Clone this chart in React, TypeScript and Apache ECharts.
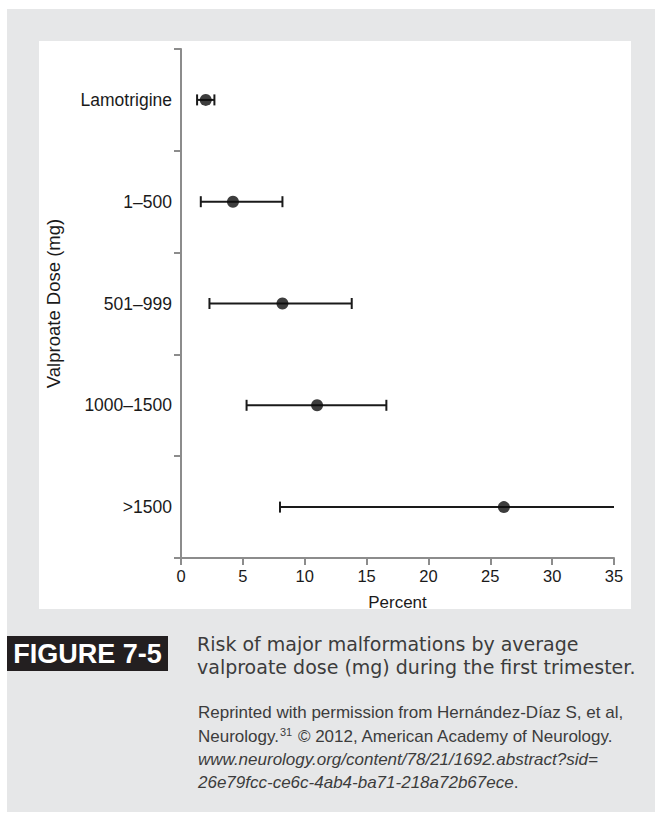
import React, { useEffect, useRef } from "react";
import * as echarts from "echarts";

const categories = ["Lamotrigine", "1–500", "501–999", "1000–1500", ">1500"];
const pointValues = [2.0, 4.2, 8.2, 11.0, 26.1];
const lowerValues = [1.3, 1.6, 2.3, 5.3, 8.0];
const upperValues = [2.7, 8.2, 13.8, 16.6, 35];
const upperOpen = [false, false, false, false, true];
const xTicks = [0, 5, 10, 15, 20, 25, 30, 35];

const FONT = "Liberation Sans";
const CAPTION_FONT = "DejaVu Sans";
const AXIS_COLOR = "#8c8c8c";
const TEXT_COLOR = "#1a1a1a";
const CAPTION_COLOR = "#3c3c3c";

export default function App() {
  const ref = useRef<HTMLDivElement>(null);
  useEffect(() => {
    if (!ref.current) return;
    const chart = echarts.init(ref.current, undefined, { renderer: "svg" });
    const errData = categories.map((c, i) => [lowerValues[i], upperValues[i], i, upperOpen[i] ? 1 : 0]);
    const ptData = categories.map((c, i) => [pointValues[i], i]);
    chart.setOption({
      animation: false,
      backgroundColor: "#ffffff",
      graphic: [
        { type: "rect", z: -10, shape: { x: 7, y: 9, width: 648, height: 803 }, style: { fill: "#e6e7e8" }, silent: true },
        { type: "rect", z: -9, shape: { x: 39, y: 41, width: 592, height: 568 }, style: { fill: "#ffffff" }, silent: true },
        { type: "rect", shape: { x: 7, y: 636, width: 161, height: 35 }, style: { fill: "#231f20" } },
        {
          type: "text", x: 87.5, y: 654,
          style: { text: "FIGURE 7-5", fill: "#ffffff", font: `bold 27px "${FONT}"`, align: "center", verticalAlign: "middle" },
        },
        {
          type: "text", x: 197, y: 655,
          style: {
            text: "Risk of major malformations by average\nvalproate dose (mg) during the first trimester.",
            fill: CAPTION_COLOR, font: `19px "${CAPTION_FONT}"`, lineHeight: 23, verticalAlign: "middle",
          },
        },
        {
          type: "text", x: 198, y: 712,
          style: { text: "Reprinted with permission from Hernández-Díaz S, et al,", fill: CAPTION_COLOR, font: `17px "${FONT}"`, lineHeight: 20, verticalAlign: "middle" },
        },
        {
          type: "text", x: 198, y: 736,
          style: {
            text: "{n|Neurology.}{s|31}{n| © 2012, American Academy of Neurology.}",
            fill: CAPTION_COLOR, verticalAlign: "middle",
            rich: {
              n: { font: `17px "${FONT}"`, fill: CAPTION_COLOR, verticalAlign: "middle", lineHeight: 20 },
              s: { font: `11px "${FONT}"`, fill: CAPTION_COLOR, verticalAlign: "top", padding: [0, 1, 9, 1] },
            },
          },
        },
        {
          type: "text", x: 198, y: 759,
          style: { text: "www.neurology.org/content/78/21/1692.abstract?sid=", fill: CAPTION_COLOR, font: `italic 17px "${FONT}"`, lineHeight: 20, verticalAlign: "middle" },
        },
        {
          type: "text", x: 198, y: 782,
          style: {
            text: "{i|26e79fcc-ce6c-4ab4-ba71-218a72b67ece}{n|.}",
            verticalAlign: "middle",
            rich: {
              i: { font: `italic 17px "${FONT}"`, fill: CAPTION_COLOR, lineHeight: 20 },
              n: { font: `17px "${FONT}"`, fill: CAPTION_COLOR, lineHeight: 20 },
            },
          },
        },
      ],
      grid: { left: 181, top: 49, width: 433, height: 509, containLabel: false },
      xAxis: {
        type: "value",
        min: 0,
        max: 35,
        interval: 5,
        name: "Percent",
        nameLocation: "middle",
        nameGap: 36,
        nameTextStyle: { fontFamily: FONT, fontSize: 17, color: TEXT_COLOR },
        axisLine: { show: true, lineStyle: { color: AXIS_COLOR, width: 2 } },
        axisTick: { show: true, length: 7, lineStyle: { color: AXIS_COLOR, width: 2 } },
        axisLabel: {
          fontFamily: FONT, fontSize: 16.5, color: TEXT_COLOR, margin: 9,
          formatter: (v: number) => (xTicks.includes(v) ? String(v) : ""),
        },
        splitLine: { show: false },
      },
      yAxis: {
        type: "category",
        data: categories,
        inverse: true,
        boundaryGap: true,
        name: "Valproate Dose (mg)",
        nameLocation: "middle",
        nameGap: 118,
        nameTextStyle: { fontFamily: FONT, fontSize: 18.5, color: TEXT_COLOR },
        axisLine: { show: true, lineStyle: { color: AXIS_COLOR, width: 2 } },
        axisTick: { show: true, length: 7, alignWithLabel: false, lineStyle: { color: AXIS_COLOR, width: 2 } },
        axisLabel: { fontFamily: FONT, fontSize: 17.5, color: TEXT_COLOR, margin: 9 },
        splitLine: { show: false },
      },
      series: [
        {
          type: "custom",
          encode: { x: [0, 1], y: 2 },
          data: errData,
          clip: true,
          renderItem: (params: any, api: any) => {
            const lo = api.value(0);
            const hi = api.value(1);
            const cat = api.value(2);
            const open = api.value(3);
            const a = api.coord([lo, cat]);
            const b = api.coord([hi, cat]);
            const h = 5.5;
            const st = { stroke: "#1a1a1a", lineWidth: 2 };
            const children: any[] = [
              { type: "line", shape: { x1: a[0], y1: a[1], x2: b[0], y2: b[1] }, style: st },
              { type: "line", shape: { x1: a[0], y1: a[1] - h, x2: a[0], y2: a[1] + h }, style: st },
            ];
            if (!open) {
              children.push({ type: "line", shape: { x1: b[0], y1: b[1] - h, x2: b[0], y2: b[1] + h }, style: st });
            }
            return { type: "group", children };
          },
          z: 2,
        },
        {
          type: "scatter",
          data: ptData,
          symbol: "circle",
          symbolSize: 12,
          itemStyle: { color: "#0d0d0d" },
          z: 3,
        },
      ],
    });
    return () => chart.dispose();
  }, []);
  return <div ref={ref} style={{ position: "fixed", left: 0, top: 0, width: 655, height: 817 }} />;
}
